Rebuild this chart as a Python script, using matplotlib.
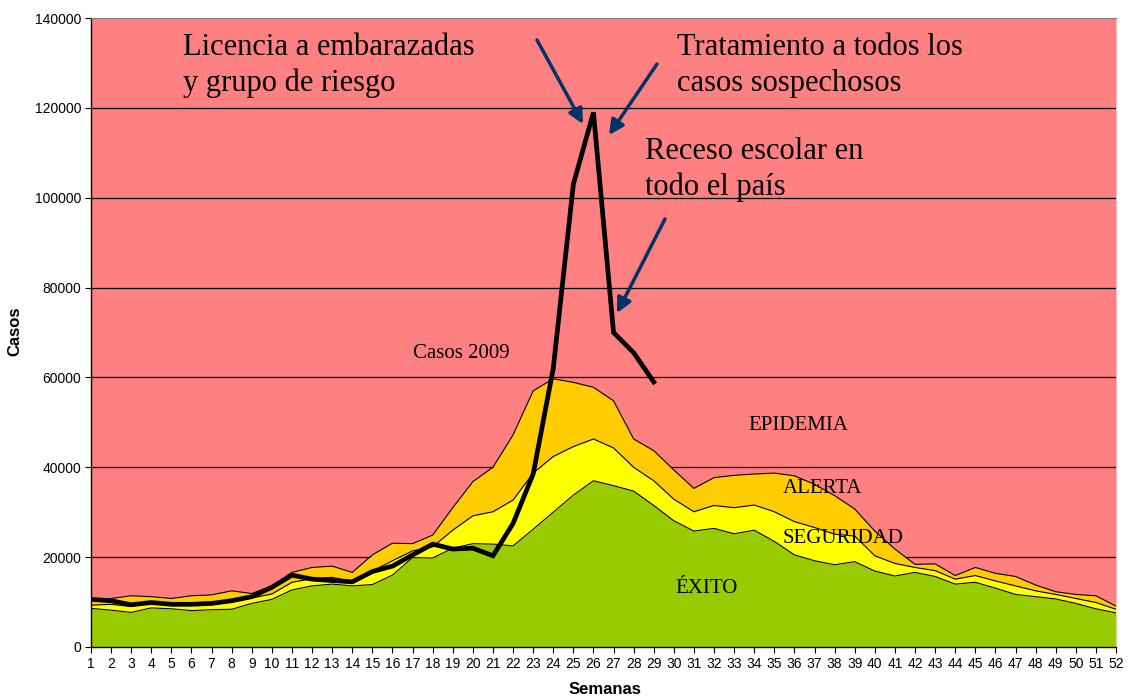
import numpy as np
import matplotlib.pyplot as plt

# weeks (categories)
semanas = list(range(1, 53))

# upper limit of each zone of the endemic channel
exito = [8600, 8200, 7700, 8700, 8500, 8100, 8300, 8400, 9700, 10600,
         12700, 13600, 14000, 13600, 13900, 16000, 19900, 19800, 22000, 23000,
         22900, 22500, 26200, 30000, 33800, 37000, 35900, 34700, 31500, 28100,
         25800, 26400, 25200, 26000, 23500, 20500, 19200, 18300, 19000, 16900,
         15800, 16600, 15700, 14000, 14400, 13100, 11700, 11200, 10700, 9700,
         8500, 7600]
seguridad = [9300, 9500, 9000, 9900, 9500, 9600, 9700, 10000, 10900, 11800,
             14400, 15200, 15500, 14600, 16900, 19200, 21400, 22300, 26000, 29200,
             30100, 32700, 38700, 42400, 44600, 46300, 44300, 40000, 37000, 32900,
             30100, 31500, 31000, 31600, 30100, 27900, 26600, 25100, 24700, 20300,
             18600, 17700, 17000, 15100, 15900, 14700, 13600, 12500, 11700, 10800,
             9900, 8400]
alerta = [10600, 10800, 11400, 11200, 10800, 11400, 11600, 12500, 11900, 13600,
          16600, 17700, 18000, 16600, 20500, 23100, 23000, 24900, 31000, 36800,
          40000, 47200, 57000, 59700, 58900, 57800, 54800, 46300, 43700, 39400,
          35300, 37700, 38200, 38500, 38700, 38100, 36200, 33700, 30700, 25800,
          21800, 18400, 18500, 15900, 17700, 16400, 15700, 13800, 12300, 11700,
          11400, 9100]
epidemia_tope = 140000

# cases 2009 (weeks 1-29)
casos_2009 = [10600, 10300, 9400, 9900, 9500, 9500, 9700, 10300, 11200, 13300,
              16000, 15100, 14800, 14500, 16800, 18000, 20500, 22900, 21800, 22000,
              20300, 27500, 38500, 62000, 103000, 119000, 70000, 65500, 59000]

W, H = 1133, 698
fig = plt.figure(figsize=(W / 100, H / 100), dpi=100)
L, R, T, B = 91, 1116, 18, 647
ax = fig.add_axes([L / W, 1 - B / H, (R - L) / W, (B - T) / H])

x = np.array(semanas)
ax.fill_between(x, alerta, epidemia_tope, color='#FF8080', lw=0, zorder=0)
for yv in range(20000, 140000, 20000):
    ax.axhline(yv, color='black', lw=0.9, zorder=0.5)
ax.fill_between(x, 0, exito, color='#99CC00', lw=0, zorder=1)
ax.fill_between(x, exito, seguridad, color='#FFFF00', lw=0, zorder=1)
ax.fill_between(x, seguridad, alerta, color='#FFCC00', lw=0, zorder=1)
for serie in (exito, seguridad, alerta):
    ax.plot(x, serie, color='black', lw=0.8, zorder=3)

ax.plot(semanas[:len(casos_2009)], casos_2009, color='black', lw=3.4,
        solid_joinstyle='miter', zorder=5)

ax.set_xlim(1, 52)
ax.set_ylim(0, 140000)
ax.set_xticks(semanas)
ax.set_xticklabels([str(s) for s in semanas])
ax.set_yticks(range(0, 140001, 20000))
ax.set_yticklabels([str(v) for v in range(0, 140001, 20000)])
ax.tick_params(direction='out', length=4, width=0.8, colors='black',
               labelsize=10, pad=3)
for lab in ax.get_xticklabels() + ax.get_yticklabels():
    lab.set_family(['Liberation Sans', 'DejaVu Sans'])
ax.spines['right'].set_visible(False)
ax.spines['top'].set_color('#808080')
ax.spines['left'].set_linewidth(1.0)
ax.spines['bottom'].set_linewidth(1.0)

fig.text(15 / W, 1 - 331 / H, 'Casos', rotation=90, ha='center', va='center',
         fontsize=12, fontweight='bold', family=['Liberation Sans', 'DejaVu Sans'])
fig.text(605 / W, 1 - 690 / H, 'Semanas', ha='center', va='center',
         fontsize=12, fontweight='bold', family=['Liberation Sans', 'DejaVu Sans'])


def px(xp, yp):
    # figure pixel (from top-left) -> data coordinates
    return (1 + (xp - L) / ((R - L) / 51), (B - yp) / (B - T) * 140000)


serif = ['Liberation Serif', 'DejaVu Serif']
big = [('Licencia a embarazadas', 183, 55), ('y grupo de riesgo', 183, 91),
       ('Tratamiento a todos los', 677, 55), ('casos sospechosos', 677, 91),
       ('Receso escolar en', 645, 159), ('todo el país', 645, 195)]
for txt, xp, yp in big:
    ax.text(*px(xp, yp), txt, fontsize=22, family=serif, ha='left',
            va='baseline', zorder=6)

small = [('Casos 2009', 413, 358), ('EPIDEMIA', 748, 430), ('ALERTA', 783, 493),
         ('SEGURIDAD', 783, 543), ('ÉXITO', 675, 593)]
for txt, xp, yp in small:
    ax.text(*px(xp, yp), txt, fontsize=15, family=serif, ha='left',
            va='baseline', zorder=6)

flechas = [((537, 40), (583, 124)), ((657, 64), (609, 135)), ((665, 219), (617, 313))]
for cola, punta in flechas:
    ax.annotate('', xy=px(*punta), xytext=px(*cola),
                arrowprops=dict(arrowstyle='-|>', color='#003366', lw=2.5,
                                mutation_scale=22, shrinkA=0, shrinkB=0),
                zorder=6)

fig.savefig('out.png', dpi=100)
